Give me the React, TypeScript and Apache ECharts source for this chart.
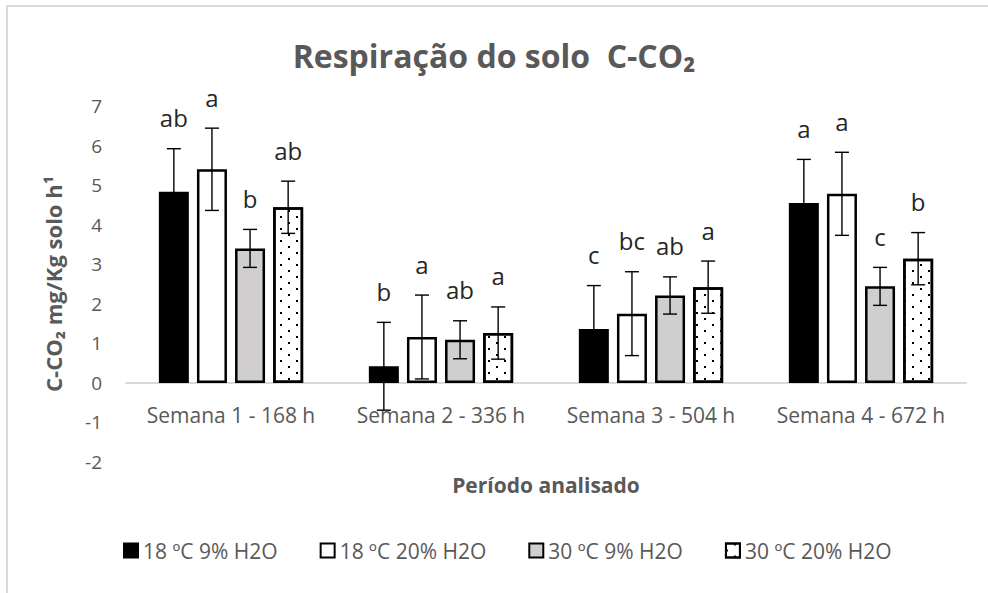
import React, { useEffect, useRef } from "react";
import * as echarts from "echarts";

const categories = ["Semana 1 - 168 h", "Semana 2 - 336 h", "Semana 3 - 504 h", "Semana 4 - 672 h"];
const seriesNames = ["18 ºC 9% H2O", "18 ºC 20% H2O", "30 ºC 9% H2O", "30 ºC 20% H2O"];

const s18_9 = [4.83, 0.42, 1.36, 4.55];
const s18_20 = [5.40, 1.16, 1.75, 4.78];
const s30_9 = [3.40, 1.09, 2.21, 2.44];
const s30_20 = [4.44, 1.26, 2.42, 3.14];

const e18_9 = [1.09, 1.11, 1.10, 1.10];
const e18_20 = [1.04, 1.06, 1.06, 1.05];
const e30_9 = [0.48, 0.48, 0.47, 0.48];
const e30_20 = [0.66, 0.66, 0.66, 0.66];

const l18_9 = ["ab", "b", "c", "a"];
const l18_20 = ["a", "a", "bc", "a"];
const l30_9 = ["b", "ab", "ab", "c"];
const l30_20 = ["ab", "a", "a", "b"];

const yTicks = [-2, -1, 0, 1, 2, 3, 4, 5, 6, 7];

const FONT = "'Open Sans', 'DejaVu Sans', sans-serif";
const BAR_W = 30;
const BAR_GAP = 0.27;

export default function App() {
  const ref = useRef<HTMLDivElement>(null);
  useEffect(() => {
    if (!ref.current) return;
    const chart = echarts.init(ref.current, null, { renderer: "svg" });
    const values = [s18_9, s18_20, s30_9, s30_20];
    const errs = [e18_9, e18_20, e30_9, e30_20];
    const letters = [l18_9, l18_20, l30_9, l30_20];
    const styles: any[] = [
      { color: "#000000", borderColor: "#000", borderWidth: 2.5 },
      { color: "#ffffff", borderColor: "#000", borderWidth: 2.5 },
      { color: "#d0cece", borderColor: "#000", borderWidth: 2.5 },
      {
        color: "#ffffff",
        borderColor: "#000",
        borderWidth: 2.5,
        decal: {
          symbol: "rect",
          symbolSize: 1,
          color: "#000",
          backgroundColor: "rgba(0,0,0,0)",
          dashArrayX: [[2, 14], [0, 8, 2, 6]],
          dashArrayY: [2, 4],
          rotation: 0,
        },
      },
    ];
    const errData: any[] = [];
    const errLetters: string[] = [];
    values.forEach((arr, s) => {
      arr.forEach((v, c) => {
        errData.push([c, v, errs[s][c], s]);
        errLetters.push(letters[s][c]);
      });
    });
    const step = BAR_W * (1 + BAR_GAP);
    const option: any = {
      animation: false,
      backgroundColor: "#ffffff",
      title: {
        text: "Respiração do solo  C-CO₂",
        left: "center",
        top: 34,
        textStyle: { fontFamily: FONT, fontSize: 32, fontWeight: "bold", color: "#595959" },
      },
      graphic: [
        {
          type: "rect",
          shape: { x: 7, y: 6, width: 1000, height: 620 },
          style: { fill: "none", stroke: "#d9d9d9", lineWidth: 2 },
          silent: true,
        },
      ],
      legend: {
        bottom: 27,
        left: 118,
        itemWidth: 14,
        itemHeight: 14,
        itemGap: 42,
        icon: "rect",
        data: seriesNames,
        textStyle: { fontFamily: FONT, fontSize: 21, color: "#595959" },
        itemStyle: { borderWidth: 2 },
      },
      grid: { left: 126, right: 22, top: 106, bottom: 131, containLabel: false },
      xAxis: {
        type: "category",
        data: categories,
        axisLine: { show: true, onZero: true, lineStyle: { color: "#d9d9d9", width: 2 } },
        axisTick: { show: false },
        axisLabel: { interval: 0, margin: -58, fontFamily: FONT, fontSize: 21, color: "#595959" },
        name: "Período analisado",
        nameLocation: "middle",
        nameGap: 12,
        nameTextStyle: { fontFamily: FONT, fontSize: 21, fontWeight: "bold", color: "#595959" },
        splitLine: { show: false },
      },
      yAxis: {
        type: "value",
        min: yTicks[0],
        max: yTicks[yTicks.length - 1],
        interval: 1,
        axisLine: { show: false },
        axisTick: { show: false },
        splitLine: { show: false },
        axisLabel: { margin: 24, fontFamily: FONT, fontSize: 19, color: "#595959" },
        name: "C-CO₂ mg/Kg solo h¹",
        nameLocation: "middle",
        nameGap: 62,
        nameTextStyle: { fontFamily: FONT, fontSize: 22, fontWeight: "bold", color: "#595959" },
      },
      series: [
        ...values.map((arr, s) => ({
          type: "bar",
          name: seriesNames[s],
          data: arr,
          barWidth: BAR_W,
          barGap: `${BAR_GAP * 100}%`,
          itemStyle: styles[s],
          emphasis: { disabled: true },
        })),
        {
          type: "custom",
          name: "err",
          data: errData,
          z: 10,
          encode: { x: 0, y: 1 },
          renderItem: (params: any, api: any) => {
            const c = api.value(0);
            const v = api.value(1);
            const e = api.value(2);
            const s = api.value(3);
            const top = api.coord([c, v + e]);
            const bot = api.coord([c, v - e]);
            const x = top[0] + (s - 1.5) * step;
            const cap = 7;
            const ls = { stroke: "#000", lineWidth: 1.4 };
            return {
              type: "group",
              children: [
                { type: "line", shape: { x1: x, y1: top[1], x2: x, y2: bot[1] }, style: ls },
                { type: "line", shape: { x1: x - cap, y1: top[1], x2: x + cap, y2: top[1] }, style: ls },
                { type: "line", shape: { x1: x - cap, y1: bot[1], x2: x + cap, y2: bot[1] }, style: ls },
                {
                  type: "text",
                  style: {
                    text: errLetters[params.dataIndex],
                    x: x,
                    y: top[1] - 19,
                    align: "center",
                    verticalAlign: "bottom",
                    fontFamily: FONT,
                    fontSize: 24,
                    fill: "#262626",
                  },
                },
              ],
            };
          },
        },
      ],
    };
    chart.setOption(option);
    return () => chart.dispose();
  }, []);
  return (
    <div
      ref={ref}
      style={{ position: "fixed", left: 0, top: 0, width: 988, height: 593, background: "#fff" }}
    />
  );
}
